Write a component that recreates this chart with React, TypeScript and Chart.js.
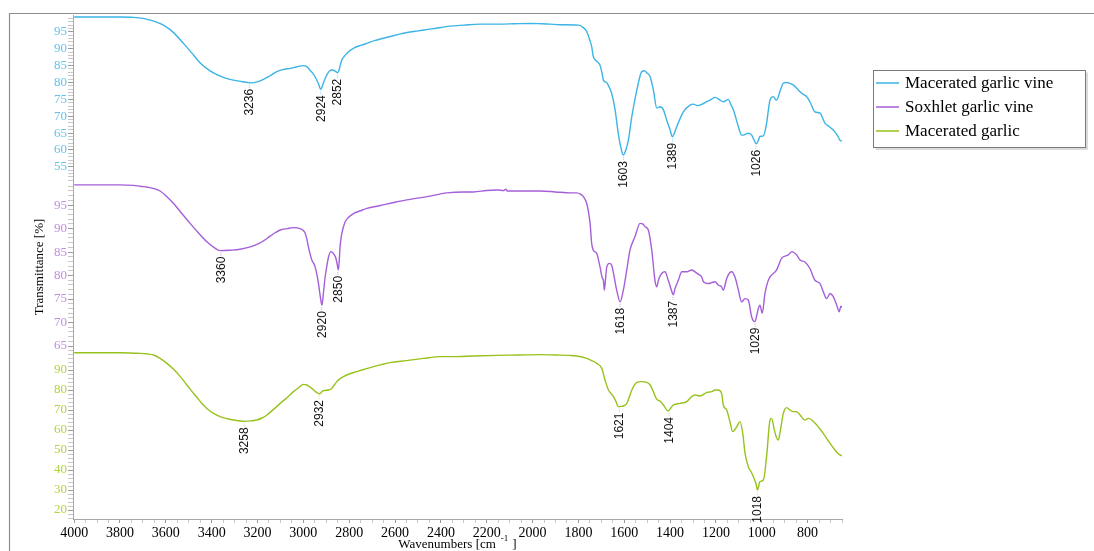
import React, { useEffect, useRef } from 'react';
import { Chart, registerables } from 'chart.js';

Chart.register(...registerables);

// ---------- data ----------
const SERIES_NAMES = ['Macerated garlic vine', 'Soxhlet garlic vine', 'Macerated garlic'];
const SERIES_COLORS = ['#3cb4e5', '#a55fd9', '#97c21c'];
const TICK_COLORS = ['#5fc3ee', '#c08ce3', '#b0d43a'];

const X_MIN = 650;
const X_MAX = 4005;
const xTickLabels = [4000, 3800, 3600, 3400, 3200, 3000, 2800, 2600, 2400, 2200, 2000, 1800, 1600, 1400, 1200, 1000, 800];
const blueTickLabels = [55, 60, 65, 70, 75, 80, 85, 90, 95];
const purpleTickLabels = [65, 70, 75, 80, 85, 90, 95];
const greenTickLabels = [20, 30, 40, 50, 60, 70, 80, 90];

// wavenumber [cm-1], transmittance [%]
const maceratedGarlicVine: [number, number][] = [
  [4000, 99.4], [3800, 99.4], [3740, 99.3], [3700, 99.0], [3668, 98.5], [3640, 97.9], [3610, 97.0], [3570, 95.0],
  [3523, 91.6], [3490, 89.0], [3450, 85.8], [3410, 83.6], [3377, 82.3], [3340, 81.3], [3305, 80.7], [3270, 80.3],
  [3232, 79.9], [3200, 80.2], [3174, 80.9], [3145, 82.0], [3116, 83.2], [3090, 83.8], [3058, 84.2], [3030, 84.6],
  [3000, 85.0], [2985, 84.7], [2978, 84.2], [2962, 83.0], [2949, 81.7], [2935, 79.8], [2924, 78.0], [2912, 80.0],
  [2898, 82.2], [2886, 83.4], [2876, 83.7], [2861, 83.4], [2852, 82.9], [2845, 83.5], [2840, 84.8], [2832, 86.7],
  [2820, 87.9], [2810, 88.7], [2780, 90.2], [2750, 91.0], [2723, 91.6], [2690, 92.4], [2651, 93.1], [2600, 94.0],
  [2563, 94.6], [2500, 95.3], [2447, 95.8], [2400, 96.3], [2360, 96.7], [2300, 97.0], [2230, 97.3], [2142, 97.3],
  [2080, 97.4], [2011, 97.5], [1960, 97.4], [1924, 97.3], [1880, 97.1], [1800, 97.0], [1785, 96.6], [1764, 95.1],
  [1750, 92.5], [1742, 90.6], [1735, 87.7], [1720, 86.3], [1706, 85.2], [1696, 82.5], [1691, 80.7], [1676, 79.9],
  [1665, 78.5], [1655, 76.8], [1640, 71.9], [1626, 64.9], [1614, 60.5], [1604, 58.5], [1593, 60.0], [1582, 62.9],
  [1567, 69.9], [1545, 77.8], [1524, 83.2], [1513, 83.5], [1502, 82.9], [1487, 81.7], [1473, 77.8], [1458, 72.4],
  [1444, 72.8], [1429, 71.9], [1415, 68.9], [1400, 66.0], [1390, 63.9], [1380, 65.2], [1371, 66.9], [1342, 71.3],
  [1313, 73.3], [1299, 73.6], [1284, 73.2], [1269, 73.3], [1240, 74.3], [1220, 75.0], [1204, 75.6], [1182, 74.8],
  [1168, 74.3], [1146, 75.0], [1135, 73.5], [1124, 71.9], [1102, 66.9], [1088, 64.4], [1081, 64.4], [1059, 65.0],
  [1044, 64.4], [1034, 63.0], [1024, 61.8], [1015, 62.8], [1008, 64.0], [993, 64.2], [979, 67.9], [970, 72.5],
  [964, 74.8], [950, 75.8], [940, 75.0], [935, 74.8], [921, 77.3], [906, 79.8], [895, 80.0], [884, 79.9],
  [863, 79.3], [841, 77.8], [826, 76.8], [804, 75.8], [790, 74.3], [768, 71.3], [746, 70.9], [724, 67.9],
  [705, 66.9], [688, 65.9], [670, 64.3], [659, 62.9], [650, 62.7],
];

const soxhletGarlicVine: [number, number][] = [
  [4000, 99.3], [3800, 99.3], [3740, 99.2], [3712, 99.0], [3680, 98.8], [3650, 98.5], [3625, 98.0], [3600, 97.0],
  [3567, 95.4], [3530, 93.2], [3494, 91.1], [3460, 89.2], [3421, 87.2], [3390, 86.0], [3363, 85.3], [3320, 85.4],
  [3276, 85.6], [3240, 86.0], [3210, 86.5], [3180, 87.2], [3159, 87.9], [3130, 88.9], [3101, 89.7], [3070, 90.0],
  [3043, 90.2], [3014, 90.0], [3000, 89.6], [2992, 89.0], [2985, 87.8], [2978, 86.1], [2970, 84.5], [2963, 83.3],
  [2955, 82.6], [2949, 81.9], [2940, 80.0], [2934, 78.3], [2926, 75.5], [2919, 73.7], [2912, 76.5], [2905, 79.7],
  [2897, 82.2], [2890, 84.0], [2880, 85.1], [2869, 84.7], [2858, 83.7], [2852, 82.3], [2847, 81.2], [2843, 83.5],
  [2840, 86.1], [2832, 89.0], [2818, 91.4], [2800, 92.5], [2781, 93.2], [2750, 93.8], [2723, 94.3], [2665, 94.9],
  [2600, 95.6], [2549, 96.1], [2461, 96.8], [2374, 97.6], [2300, 97.8], [2258, 97.8], [2200, 98.1], [2156, 98.2],
  [2125, 98.1], [2117, 98.4], [2110, 98.0], [2050, 98.0], [1967, 98.0], [1900, 97.8], [1836, 97.6], [1807, 97.6],
  [1790, 97.3], [1778, 96.8], [1764, 95.4], [1756, 93.5], [1749, 91.1], [1742, 86.8], [1735, 85.4], [1720, 84.7],
  [1706, 81.9], [1696, 79.5], [1691, 79.0], [1687, 76.9], [1684, 78.0], [1676, 81.9], [1665, 82.6], [1655, 82.2],
  [1647, 80.5], [1633, 76.9], [1618, 74.4], [1604, 76.9], [1589, 81.2], [1575, 85.4], [1553, 88.3], [1531, 91.1],
  [1520, 91.0], [1509, 90.4], [1495, 89.7], [1480, 85.4], [1466, 79.0], [1458, 77.6], [1451, 79.0], [1436, 80.5],
  [1422, 80.8], [1408, 79.0], [1395, 77.0], [1386, 75.9], [1378, 77.3], [1364, 79.0], [1349, 80.8], [1327, 80.8],
  [1306, 81.2], [1291, 80.8], [1277, 80.3], [1262, 79.7], [1255, 78.7], [1233, 78.3], [1218, 78.5], [1204, 78.7],
  [1190, 78.0], [1175, 77.6], [1168, 76.9], [1153, 79.4], [1140, 80.6], [1131, 80.8], [1117, 79.7], [1102, 76.9],
  [1088, 74.4], [1073, 75.1], [1059, 74.8], [1044, 71.2], [1030, 70.2], [1022, 71.5], [1015, 73.0], [1008, 73.7],
  [998, 72.0], [986, 76.2], [975, 78.5], [964, 79.7], [935, 81.2], [913, 83.7], [884, 84.4], [869, 85.1],
  [848, 84.4], [833, 83.3], [812, 82.9], [790, 81.5], [768, 79.0], [746, 78.3], [732, 76.6], [717, 75.1],
  [702, 76.2], [688, 75.5], [673, 73.7], [662, 72.3], [655, 73.5], [650, 73.2],
];

const maceratedGarlic: [number, number][] = [
  [4000, 98.6], [3800, 98.6], [3740, 98.4], [3712, 98.3], [3680, 98.0], [3654, 97.5], [3625, 95.8], [3595, 93.3],
  [3565, 90.2], [3537, 86.7], [3508, 82.5], [3479, 78.3], [3450, 74.3], [3421, 70.8], [3390, 68.2], [3363, 66.7],
  [3330, 65.6], [3305, 65.0], [3254, 64.3], [3225, 64.6], [3203, 65.0], [3180, 66.0], [3159, 67.5], [3130, 70.3],
  [3101, 73.3], [3070, 76.3], [3043, 79.2], [3020, 81.2], [3000, 82.8], [2985, 82.5], [2975, 81.8], [2963, 80.8],
  [2950, 79.5], [2941, 78.7], [2930, 78.0], [2920, 79.0], [2912, 79.7], [2890, 80.0], [2876, 80.8], [2865, 82.5],
  [2854, 84.2], [2840, 85.6], [2825, 86.7], [2800, 88.0], [2767, 89.2], [2730, 90.5], [2694, 91.7], [2660, 92.7],
  [2621, 93.7], [2549, 94.7], [2476, 95.8], [2403, 96.7], [2331, 96.7], [2258, 97.0], [2156, 97.3], [2060, 97.5],
  [1967, 97.7], [1900, 97.5], [1836, 97.3], [1807, 97.0], [1764, 95.8], [1740, 94.6], [1720, 93.3], [1698, 90.8],
  [1684, 85.0], [1669, 80.0], [1658, 78.3], [1647, 76.7], [1636, 74.2], [1626, 71.7], [1614, 71.8], [1604, 72.0],
  [1589, 73.3], [1578, 76.5], [1567, 80.0], [1545, 83.8], [1524, 84.2], [1502, 83.8], [1487, 82.5], [1473, 79.2],
  [1458, 75.3], [1444, 74.5], [1429, 72.5], [1408, 69.5], [1397, 71.0], [1386, 72.5], [1357, 73.3], [1327, 74.2],
  [1306, 76.7], [1291, 77.5], [1269, 77.0], [1240, 78.8], [1218, 79.2], [1204, 80.0], [1190, 80.0], [1175, 78.3],
  [1168, 72.5], [1153, 70.0], [1139, 64.2], [1127, 59.2], [1109, 61.7], [1095, 64.2], [1083, 58.3], [1073, 48.3],
  [1059, 41.7], [1046, 39.0], [1037, 36.7], [1025, 33.0], [1019, 30.0], [1008, 34.2], [993, 35.0], [979, 46.7],
  [964, 65.0], [957, 65.8], [945, 60.0], [935, 56.0], [928, 55.0], [921, 58.3], [906, 68.3], [891, 71.2],
  [877, 70.0], [863, 69.2], [848, 69.2], [833, 67.5], [812, 65.0], [797, 65.8], [782, 65.0], [760, 62.5],
  [732, 58.3], [702, 53.3], [681, 50.0], [665, 48.0], [650, 47.0],
];

const bluePeaks: [number, number][] = [[3236, 79.9], [2924, 78.0], [2852, 82.9], [1603, 58.5], [1389, 63.9], [1026, 61.8]];
const purplePeaks: [number, number][] = [[3360, 85.3], [2920, 73.7], [2850, 81.2], [1618, 74.4], [1387, 75.9], [1029, 70.2]];
const greenPeaks: [number, number][] = [[3258, 64.3], [2932, 78.0], [1621, 71.7], [1404, 69.5], [1018, 30.0]];

// ---------- helpers ----------
const SERIF = 'Liberation Serif';
const SANS = 'Liberation Sans';

function stepValues(min: number, max: number, step: number): number[] {
  const out: number[] = [];
  for (let v = Math.ceil(min / step) * step; v <= max + 1e-9; v += step) out.push(Math.round(v * 1000) / 1000);
  return out;
}

function yScale(idx: number, min: number, max: number, minorStep: number, labels: number[], extra: any = {}) {
  return {
    type: 'linear',
    position: 'left',
    stack: 'ftir',
    stackWeight: 1,
    offset: false,
    min,
    max,
    afterBuildTicks: (s: any) => {
      s.ticks = stepValues(min, max, minorStep).filter((v) => v < 100).map((v) => ({ value: v }));
    },
    afterFit: (s: any) => {
      s.width = 73;
    },
    ticks: {
      autoSkip: false,
      color: TICK_COLORS[idx],
      padding: 1,
      font: { family: SERIF, size: 13 },
      callback: (v: any) => (labels.includes(Number(v)) ? String(v) : ''),
    },
    grid: {
      drawOnChartArea: false,
      drawTicks: true,
      tickLength: 5,
      tickColor: (c: any) => (c.tick && labels.includes(c.tick.value) ? '#9a9a9a' : '#c8c8c8'),
    },
    border: { display: true, color: '#a8a8a8', width: 1 },
    ...extra,
  };
}

const frameAndAnnotations = {
  id: 'frameAndAnnotations',
  beforeDraw(chart: any) {
    const ctx = chart.ctx;
    ctx.save();
    ctx.fillStyle = '#ffffff';
    ctx.fillRect(0, 0, chart.width, chart.height);
    ctx.strokeStyle = '#8e8e8e';
    ctx.lineWidth = 1.2;
    ctx.beginPath();
    ctx.moveTo(9.5, chart.height);
    ctx.lineTo(9.5, 13.5);
    ctx.lineTo(chart.width, 13.5);
    ctx.stroke();
    ctx.restore();
  },
  afterDraw(chart: any) {
    const ctx = chart.ctx;
    const area = chart.chartArea;
    const xs = chart.scales.x;
    // peak labels
    const groups: [string, [number, number][], string][] = [
      ['yBlue', bluePeaks, SERIES_COLORS[0]],
      ['yPurple', purplePeaks, SERIES_COLORS[1]],
      ['yGreen', greenPeaks, SERIES_COLORS[2]],
    ];
    ctx.save();
    for (const [yid, peaks, color] of groups) {
      const ys = chart.scales[yid];
      for (const [wn, t] of peaks) {
        const px = xs.getPixelForValue(wn);
        const py = ys.getPixelForValue(t);
        ctx.strokeStyle = color;
        ctx.globalAlpha = 0.6;
        ctx.lineWidth = 1;
        ctx.setLineDash([1, 1]);
        ctx.beginPath();
        ctx.moveTo(px, py + 2);
        ctx.lineTo(px, py + 5);
        ctx.stroke();
        ctx.setLineDash([]);
        ctx.globalAlpha = 1;
        ctx.save();
        ctx.translate(px, py + 6);
        ctx.rotate(-Math.PI / 2);
        ctx.fillStyle = '#111';
        ctx.font = `12px "${SANS}"`;
        ctx.textAlign = 'right';
        ctx.textBaseline = 'middle';
        ctx.fillText(String(wn), 0, 0.5);
        ctx.restore();
      }
    }
    ctx.restore();

    // x axis title with superscript
    ctx.save();
    ctx.fillStyle = '#000';
    ctx.textBaseline = 'alphabetic';
    const mainText = 'Wavenumbers [cm';
    const supText = '-1';
    const endText = ']';
    ctx.font = `13px "${SERIF}"`;
    const wMain = ctx.measureText(mainText).width;
    const wEnd = ctx.measureText(endText).width;
    ctx.font = `9px "${SERIF}"`;
    const wSup = ctx.measureText(supText).width;
    const total = wMain + 5 + wSup + 4 + wEnd;
    let tx = (area.left + area.right) / 2 - total / 2;
    const base = 548;
    ctx.font = `13px "${SERIF}"`;
    ctx.fillText(mainText, tx, base);
    tx += wMain + 5;
    ctx.font = `9px "${SERIF}"`;
    ctx.fillText(supText, tx, base - 7);
    tx += wSup + 4;
    ctx.font = `13px "${SERIF}"`;
    ctx.fillText(endText, tx, base);
    ctx.restore();

    // legend
    ctx.save();
    const bx = 873.5, by = 70.5, bw = 212, bh = 77;
    ctx.fillStyle = '#ffffff';
    ctx.fillRect(bx, by, bw, bh);
    ctx.strokeStyle = '#d0d0d0';
    ctx.lineWidth = 1.5;
    ctx.beginPath();
    ctx.moveTo(bx + bw + 1.5, by + 2);
    ctx.lineTo(bx + bw + 1.5, by + bh + 1.5);
    ctx.lineTo(bx + 2, by + bh + 1.5);
    ctx.stroke();
    ctx.strokeStyle = '#7a7a7a';
    ctx.lineWidth = 1;
    ctx.strokeRect(bx, by, bw, bh);
    chart.data.datasets.forEach((ds: any, i: number) => {
      const ly = 83 + i * 24;
      ctx.strokeStyle = ds.borderColor;
      ctx.lineWidth = 1.5;
      ctx.beginPath();
      ctx.moveTo(876, ly);
      ctx.lineTo(899, ly);
      ctx.stroke();
      ctx.fillStyle = '#000';
      ctx.font = `17px "${SERIF}"`;
      ctx.textAlign = 'left';
      ctx.textBaseline = 'middle';
      ctx.fillText(ds.label, 905, ly + 1);
    });
    ctx.restore();
  },
};

function toPoints(arr: [number, number][]) {
  return arr.map(([x, y]) => ({ x, y }));
}

export default function App() {
  const ref = useRef<HTMLCanvasElement>(null);

  useEffect(() => {
    if (!ref.current) return;
    const datasets = [
      { label: SERIES_NAMES[0], data: toPoints(maceratedGarlicVine), yAxisID: 'yBlue' },
      { label: SERIES_NAMES[1], data: toPoints(soxhletGarlicVine), yAxisID: 'yPurple' },
      { label: SERIES_NAMES[2], data: toPoints(maceratedGarlic), yAxisID: 'yGreen' },
    ].map((d, i) => ({
      ...d,
      borderColor: SERIES_COLORS[i],
      backgroundColor: SERIES_COLORS[i],
      borderWidth: 1.4,
      pointRadius: 0,
      fill: false,
      cubicInterpolationMode: 'monotone' as const,
    }));

    const chart = new Chart(ref.current, {
      type: 'line',
      data: { datasets },
      options: {
        responsive: false,
        maintainAspectRatio: false,
        animation: false,
        layout: { padding: { top: 15, right: 252, bottom: 0, left: 0 } },
        plugins: { legend: { display: false }, tooltip: { enabled: false } },
        scales: {
          x: {
            type: 'linear',
            reverse: true,
            min: X_MIN,
            max: X_MAX,
            afterBuildTicks: (s: any) => {
              s.ticks = stepValues(X_MIN, 4000, 50).map((v) => ({ value: v }));
            },
            afterFit: (s: any) => {
              s.height = 32;
            },
            ticks: {
              autoSkip: false,
              maxRotation: 0,
              color: '#000',
              padding: 2,
              font: { family: SERIF, size: 14 },
              callback: (v: any) => (xTickLabels.includes(Number(v)) ? String(v) : ''),
            },
            grid: {
              drawOnChartArea: false,
              tickLength: 4,
              tickColor: (c: any) => (c.tick && xTickLabels.includes(c.tick.value) ? '#9a9a9a' : '#c8c8c8'),
            },
            border: { display: true, color: '#a8a8a8', width: 1 },
          },
          yGreen: yScale(2, 15.5, 99.5, 2, greenTickLabels),
          yPurple: yScale(1, 63.95, 99.7, 1, purpleTickLabels, {
            title: {
              display: true,
              text: 'Transmittance [%]',
              color: '#000',
              font: { family: SERIF, size: 13 },
              padding: { top: 32, bottom: 0 },
            },
          }),
          yBlue: yScale(0, 50.22, 100, 1, blueTickLabels),
        } as any,
      },
      plugins: [frameAndAnnotations],
    } as any);

    return () => chart.destroy();
  }, []);

  return (
    <div style={{ position: 'fixed', left: 0, top: 0, width: 1094, height: 551, background: '#fff' }}>
      <canvas ref={ref} width={1094} height={551} style={{ display: 'block', width: 1094, height: 551 }} />
    </div>
  );
}
